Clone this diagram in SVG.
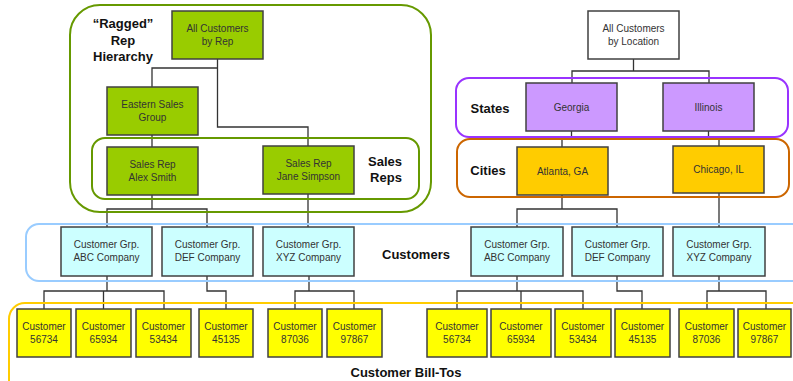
<svg xmlns="http://www.w3.org/2000/svg" width="793" height="381" viewBox="0 0 793 381">
<style>
.bx{stroke:#404040;stroke-width:1.5}
.g{fill:#99CC00}
.c{fill:#CCFFFF}
.y{fill:#FFFF00}
.p{fill:#CC99FF}
.o{fill:#FFCC00}
.w{fill:#FFFFFF}
.t{font-family:"Liberation Sans",Arial,sans-serif;font-size:10px;fill:#333;text-anchor:middle}
.lb{font-family:"Liberation Sans",Arial,sans-serif;font-size:13px;font-weight:bold;fill:#111;text-anchor:middle}
.cn{fill:none;stroke:#333;stroke-width:1.3}
.grp{fill:none;stroke-width:2}
</style>
<rect width="793" height="381" fill="#fff"/>
<g id="connectors">
<path class="cn" d="M217.5,59V68H152V87M217.5,68V127H308V146"/>
<path class="cn" d="M152,135V147"/>
<path class="cn" d="M152,195V209M107,227V209H207V227M308,194V227"/>
<path class="cn" d="M107,276V291M44,309V291H164V309M103.5,291V309M207,276V291H226V309M309,276V291M295,309V291H354V309"/>
<path class="cn" d="M633.5,59V71M572,83V71H709V83"/>
<path class="cn" d="M571.5,131V137H562V147M708.5,131V137H719V146"/>
<path class="cn" d="M562,195V209M517,227V209H617V227M719,193V227"/>
<path class="cn" d="M517,276V291M457,309V291H583V309M521,291V309M617,276V291H642V309M719,276V291M707,309V291H766V309"/>
</g>
<g id="group-outlines">
<rect class="grp" x="70" y="5" width="361" height="207" rx="30" stroke="#669900"/>
<rect class="grp" x="92" y="138" width="327" height="61" rx="13" stroke="#669900"/>
<rect class="grp" x="26" y="224" width="790" height="57" rx="13" stroke="#99CCFF"/>
<rect class="grp" x="9" y="303" width="810" height="110" rx="16" stroke="#FFCC00"/>
<rect class="grp" x="456" y="78" width="332" height="59" rx="13" stroke="#9933FF"/>
<rect class="grp" x="457" y="139" width="332" height="58" rx="13" stroke="#CC6600"/>
</g>
<g id="label-ragged"><text class="lb" x="123" y="28">“Ragged”</text><text class="lb" x="123" y="45">Rep</text><text class="lb" x="123" y="61">Hierarchy</text></g>
<g id="label-salesreps"><text class="lb" x="385" y="166">Sales</text><text class="lb" x="386" y="182">Reps</text></g>
<g id="label-states"><text class="lb" x="490" y="113">States</text></g>
<g id="label-cities"><text class="lb" x="488" y="175">Cities</text></g>
<g id="label-customers"><text class="lb" x="416" y="259">Customers</text></g>
<g id="label-billtos"><text class="lb" x="406" y="377">Customer Bill-Tos</text></g>

<g id="n-allrep"><rect class="bx g" x="172" y="11" width="91" height="48"/><text class="t" x="217.5" y="31.5">All Customers</text><text class="t" x="217.5" y="44.5">by Rep</text></g>
<g id="n-eastern"><rect class="bx g" x="107" y="87" width="91" height="48"/><text class="t" x="152.5" y="107.5">Eastern Sales</text><text class="t" x="152.5" y="120.5">Group</text></g>
<g id="n-alex"><rect class="bx g" x="107" y="147" width="91" height="48"/><text class="t" x="152.5" y="167.5">Sales Rep</text><text class="t" x="152.5" y="180.5">Alex Smith</text></g>
<g id="n-jane"><rect class="bx g" x="263" y="146" width="91" height="48"/><text class="t" x="308.5" y="166.5">Sales Rep</text><text class="t" x="308.5" y="179.5">Jane Simpson</text></g>

<g id="n-allloc"><rect class="bx w" x="588" y="11" width="91" height="48"/><text class="t" x="633.5" y="31.5">All Customers</text><text class="t" x="633.5" y="44.5">by Location</text></g>
<g id="n-georgia"><rect class="bx p" x="526" y="83" width="91" height="48"/><text class="t" x="571.5" y="110.5">Georgia</text></g>
<g id="n-illinois"><rect class="bx p" x="663" y="83" width="91" height="48"/><text class="t" x="708.5" y="110.5">Illinois</text></g>
<g id="n-atlanta"><rect class="bx o" x="517" y="147" width="91" height="48"/><text class="t" x="562.5" y="174.5">Atlanta, GA</text></g>
<g id="n-chicago"><rect class="bx o" x="673" y="146" width="91" height="47"/><text class="t" x="718.5" y="173">Chicago, IL</text></g>

<g id="n-abc1"><rect class="bx c" x="61" y="227" width="91" height="49"/><text class="t" x="106.5" y="248">Customer Grp.</text><text class="t" x="106.5" y="261">ABC Company</text></g>
<g id="n-def1"><rect class="bx c" x="162" y="227" width="91" height="49"/><text class="t" x="207.5" y="248">Customer Grp.</text><text class="t" x="207.5" y="261">DEF Company</text></g>
<g id="n-xyz1"><rect class="bx c" x="263" y="227" width="91" height="49"/><text class="t" x="308.5" y="248">Customer Grp.</text><text class="t" x="308.5" y="261">XYZ Company</text></g>
<g id="n-abc2"><rect class="bx c" x="471" y="227" width="92" height="49"/><text class="t" x="517" y="248">Customer Grp.</text><text class="t" x="517" y="261">ABC Company</text></g>
<g id="n-def2"><rect class="bx c" x="572" y="227" width="91" height="49"/><text class="t" x="617.5" y="248">Customer Grp.</text><text class="t" x="617.5" y="261">DEF Company</text></g>
<g id="n-xyz2"><rect class="bx c" x="673" y="227" width="92" height="49"/><text class="t" x="719" y="248">Customer Grp.</text><text class="t" x="719" y="261">XYZ Company</text></g>

<g id="n-c1a"><rect class="bx y" x="17" y="309" width="54" height="48"/><text class="t" x="44" y="329.5">Customer</text><text class="t" x="44" y="342.5">56734</text></g>
<g id="n-c2a"><rect class="bx y" x="76" y="309" width="55" height="48"/><text class="t" x="103.5" y="329.5">Customer</text><text class="t" x="103.5" y="342.5">65934</text></g>
<g id="n-c3a"><rect class="bx y" x="136" y="309" width="55" height="48"/><text class="t" x="163.5" y="329.5">Customer</text><text class="t" x="163.5" y="342.5">53434</text></g>
<g id="n-c4a"><rect class="bx y" x="199" y="309" width="54" height="48"/><text class="t" x="226" y="329.5">Customer</text><text class="t" x="226" y="342.5">45135</text></g>
<g id="n-c5a"><rect class="bx y" x="268" y="309" width="54" height="48"/><text class="t" x="295" y="329.5">Customer</text><text class="t" x="295" y="342.5">87036</text></g>
<g id="n-c6a"><rect class="bx y" x="327" y="309" width="55" height="48"/><text class="t" x="354.5" y="329.5">Customer</text><text class="t" x="354.5" y="342.5">97867</text></g>

<g id="n-c1b"><rect class="bx y" x="427" y="309" width="60" height="48"/><text class="t" x="457" y="329.5">Customer</text><text class="t" x="457" y="342.5">56734</text></g>
<g id="n-c2b"><rect class="bx y" x="491" y="309" width="60" height="48"/><text class="t" x="521" y="329.5">Customer</text><text class="t" x="521" y="342.5">65934</text></g>
<g id="n-c3b"><rect class="bx y" x="555" y="309" width="56" height="48"/><text class="t" x="583" y="329.5">Customer</text><text class="t" x="583" y="342.5">53434</text></g>
<g id="n-c4b"><rect class="bx y" x="615" y="309" width="55" height="48"/><text class="t" x="642.5" y="329.5">Customer</text><text class="t" x="642.5" y="342.5">45135</text></g>
<g id="n-c5b"><rect class="bx y" x="679" y="309" width="55" height="48"/><text class="t" x="706.5" y="329.5">Customer</text><text class="t" x="706.5" y="342.5">87036</text></g>
<g id="n-c6b"><rect class="bx y" x="738" y="309" width="53" height="48"/><text class="t" x="764.5" y="329.5">Customer</text><text class="t" x="764.5" y="342.5">97867</text></g>
</svg>
